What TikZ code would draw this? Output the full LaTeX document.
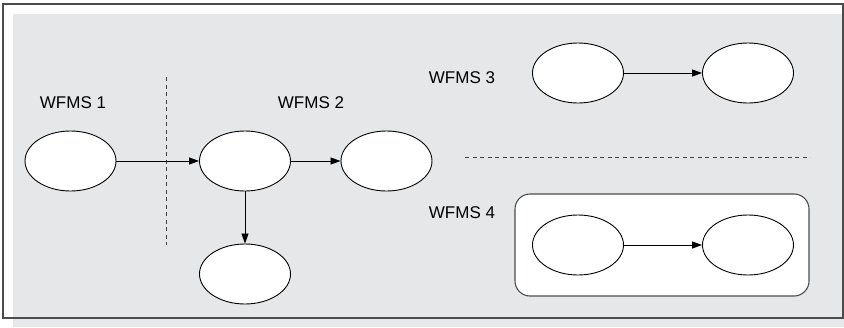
\documentclass[tikz,border=0pt]{standalone}
\usepackage{fontspec}
\setmainfont{Liberation Sans}
\usetikzlibrary{shapes.geometric,arrows.meta}
\definecolor{panel}{HTML}{E6E7E8}
\tikzset{
  wf/.style={ellipse,draw,fill=white,line width=0.9pt,minimum width=91pt,minimum height=60pt,inner sep=0pt},
  lbl/.style={font=\fontsize{17}{20}\selectfont,text=black},
  flow/.style={-{Triangle[length=10pt,width=7pt]},line width=0.8pt},
  split/.style={draw=black!75,line width=0.9pt,dash pattern=on 4pt off 3.5pt}
}
\begin{document}
\begin{tikzpicture}[x=1pt,y=-1pt]
            \useasboundingbox (0,0) rectangle (844,327);
            \fill[panel] (13,14) rectangle (844,327);
            \draw[black!70,line width=1.2pt] (3,4) rectangle (843,318);
            \draw[rounded corners=15pt,fill=white,draw=black!70,line width=1.1pt] (515,194) rectangle (809,296);
            \draw[split] (166,77) -- (166,245);
            \draw[split] (465,157) -- (810,157);
            \node[lbl] (w1) at (73,103) {WFMS 1};
            \node[lbl] (w2) at (311,103) {WFMS 2};
            \node[lbl] (w3) at (462,78) {WFMS 3};
            \node[lbl] (w4) at (462,213) {WFMS 4};
            \node[wf] (a) at (70.5,161) {};
            \node[wf] (b) at (245,161) {};
            \node[wf] (c) at (386.5,161) {};
            \node[wf] (d) at (245,274) {};
            \node[wf] (e) at (578,73) {};
            \node[wf] (f) at (748,73) {};
            \node[wf] (g) at (578,245) {};
            \node[wf] (h) at (748,245) {};
            \draw[flow] (a) -- (b);
            \draw[flow] (b) -- (c);
            \draw[flow] (b) -- (d);
            \draw[flow] (e) -- (f);
            \draw[flow] (g) -- (h);
          \end{tikzpicture}
\end{document}
